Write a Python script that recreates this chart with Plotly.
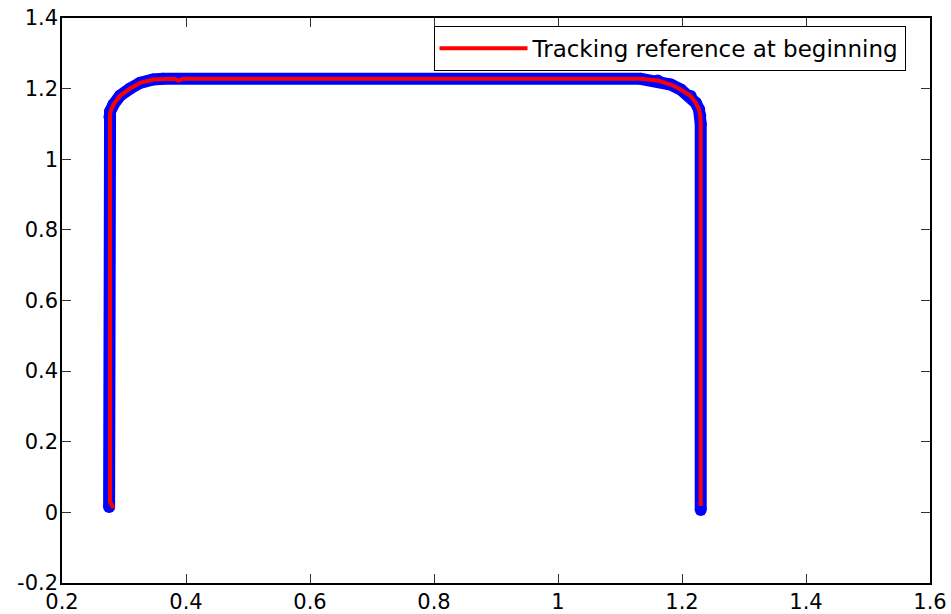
import plotly.graph_objects as go

# Tracking reference (red)
ref_x = [0.2830, 0.2775, 0.2775, 0.2782, 0.2830, 0.2937, 0.3098, 0.3260, 0.3470, 0.3630,
         0.3820, 0.3880, 0.3950, 1.1330, 1.1608, 1.1818, 1.1980, 1.2141, 1.2221, 1.2275,
         1.2295, 1.2302, 1.2302]
ref_y = [0.012, 0.030, 1.120, 1.135, 1.155, 1.180, 1.2003, 1.2164, 1.2258, 1.228,
         1.228, 1.223, 1.228, 1.228, 1.223, 1.2116, 1.1975, 1.179, 1.160, 1.141,
         1.123, 1.100, 0.018]

# Actual trajectory (blue, thick dots)
traj_x = [0.2760, 0.2765, 0.2775, 0.2830, 0.2937, 0.3098, 0.3260, 0.3470, 0.3630,
          1.1330, 1.1608, 1.1818, 1.1980, 1.2141, 1.2221, 1.2275, 1.2295, 1.2302, 1.2302]
traj_y = [0.015, 1.120, 1.135, 1.155, 1.180, 1.2003, 1.2164, 1.2258, 1.228,
          1.228, 1.223, 1.2116, 1.1975, 1.179, 1.160, 1.141, 1.123, 1.100, 0.007]

x_ticks = [0.2, 0.4, 0.6, 0.8, 1.0, 1.2, 1.4, 1.6]
x_ticktext = ["0.2", "0.4", "0.6", "0.8", "1", "1.2", "1.4", "1.6"]
y_ticks = [-0.2, 0.0, 0.2, 0.4, 0.6, 0.8, 1.0, 1.2, 1.4]
y_ticktext = ["-0.2", "0", "0.2", "0.4", "0.6", "0.8", "1", "1.2", "1.4"]

FONT = "DejaVu Sans"

fig = go.Figure()
fig.add_trace(go.Scatter(
    x=traj_x, y=traj_y, mode="lines+markers",
    line=dict(color="#0000FF", width=12),
    marker=dict(color="#0000FF", size=12),
    showlegend=False, hoverinfo="skip"))
fig.add_trace(go.Scatter(
    x=ref_x, y=ref_y, mode="lines",
    line=dict(color="#FF0000", width=4),
    name="Tracking reference at beginning"))

axis_common = dict(
    automargin=False,
    showgrid=False, zeroline=False, showline=True, linecolor="black", linewidth=1.5,
    mirror="ticks", ticks="inside", ticklen=9, tickwidth=1, tickcolor="#333333",
    tickfont=dict(family=FONT, size=21, color="black"),
)
fig.update_xaxes(range=[0.2, 1.6], tickvals=x_ticks, ticktext=x_ticktext,
                 ticklabelstandoff=-1, **axis_common)
fig.update_yaxes(range=[-0.2, 1.4], tickvals=y_ticks, ticktext=y_ticktext,
                 ticklabelstandoff=-2, **axis_common)

fig.update_layout(
    width=951, height=614,
    margin=dict(l=62, r=21, t=18, b=31, pad=0),
    plot_bgcolor="white", paper_bgcolor="white",
    font=dict(family=FONT, size=21, color="black"),
    legend=dict(
        x=0.428, y=0.986, xanchor="left", yanchor="top",
        bgcolor="white", bordercolor="black", borderwidth=1,
        font=dict(family=FONT, size=23, color="black"),
        itemwidth=88,
    ),
)

fig.write_html("out.html")
